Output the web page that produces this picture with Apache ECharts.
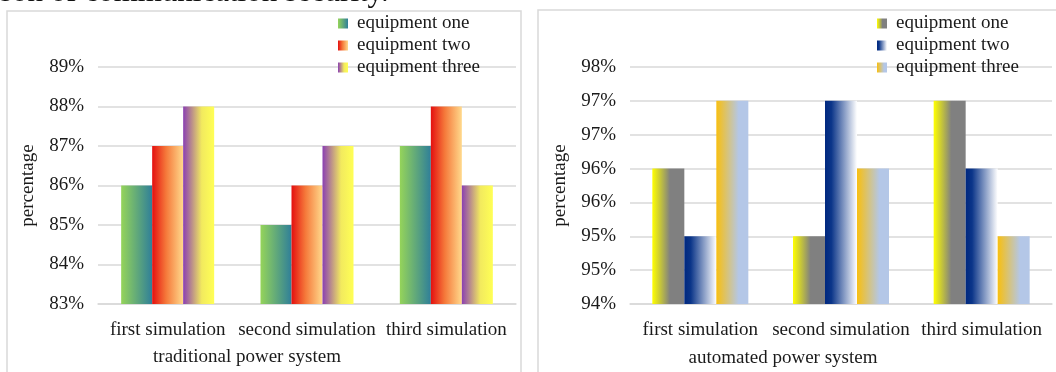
<!DOCTYPE html>
<html>
<head>
<meta charset="utf-8">
<script src="https://cdn.jsdelivr.net/npm/echarts@6/dist/echarts.min.js"></script>
<style>
html,body{margin:0;padding:0;background:#fff;}
#left,#right{position:absolute;top:0;width:528px;height:372px;}
#left{left:0;}
#right{left:528px;}
</style>
</head>
<body>
<div id="left"></div>
<div id="right"></div>
<script>
// ---- data ----
const categories = ['first simulation', 'second simulation', 'third simulation'];
const seriesNames = ['equipment one', 'equipment two', 'equipment three'];
const tradOne = [86, 85, 87];
const tradTwo = [87, 86, 88];
const tradThree = [88, 87, 86];
const autoOne = [96, 95, 97];
const autoTwo = [95, 97, 96];
const autoThree = [97, 96, 95];
const tradAxis = { min: 83, max: 89, interval: 1 };
const autoAxis = { min: 94, max: 97.5, interval: 0.5 };
const tradTitle = 'traditional power system';
const autoTitle = 'automated power system';
const headerText = 'son of communication security.';
const yName = 'percentage';

const FONT = 'Liberation Serif, Times New Roman, serif';
const FS = 19;
const TXT = '#1a1a1a';
const GRID_C = '#d9d9d9';

function grad(stops) {
  return { type: 'linear', x: 0, y: 0, x2: 1, y2: 0,
    colorStops: stops.map(s => ({ offset: s[0], color: s[1] })) };
}
const tradColors = [
  grad([[0, '#95d45a'], [1, '#2f7f99']]),
  grad([[0, '#e41010'], [0.45, '#f5793a'], [1, '#ffd98c']]),
  grad([[0, '#8a3fb2'], [0.6, '#f2ea5e'], [1, '#ffff55']])
];
const autoColors = [
  grad([[0, '#ffff00'], [0.55, '#808080'], [1, '#808080']]),
  grad([[0, '#00287f'], [0.2, '#0b3589'], [1, '#ffffff']]),
  grad([[0, '#f8bf10'], [0.7, '#b4c7e7'], [1, '#b4c7e7']])
];

function buildOption(cfg) {
  return {
    animation: false,
    textStyle: { fontFamily: FONT },
    grid: { left: cfg.gridLeft, right: cfg.gridRight, top: 67, bottom: 68 },
    legend: {
      orient: 'vertical', left: cfg.legendLeft, top: 14, padding: 0,
      itemWidth: 10, itemHeight: 10, itemGap: 3, icon: 'rect',
      textStyle: { fontFamily: FONT, fontSize: FS, color: TXT, lineHeight: 19, padding: [0, 0, 0, 4] },
      data: seriesNames
    },
    xAxis: {
      type: 'category', data: categories,
      axisLine: { lineStyle: { color: GRID_C, width: 1.5 } },
      axisTick: { show: false },
      axisLabel: { fontFamily: FONT, fontSize: FS, color: TXT, margin: 17, interval: 0 }
    },
    yAxis: {
      type: 'value', min: cfg.axis.min, max: cfg.axis.max, interval: cfg.axis.interval,
      name: yName, nameLocation: 'middle', nameGap: 60, nameRotate: 90,
      nameTextStyle: { fontFamily: FONT, fontSize: FS, color: TXT },
      axisLine: { show: false }, axisTick: { show: false },
      splitLine: { lineStyle: { color: GRID_C, width: 1.5 } },
      axisLabel: { fontFamily: FONT, fontSize: FS, color: TXT, margin: 14,
        formatter: v => Math.round(v) + '%' }
    },
    graphic: cfg.graphic,
    series: cfg.data.map((d, i) => ({
      name: seriesNames[i], type: 'bar', data: d, barWidth: cfg.barWidth, barGap: '0%',
      itemStyle: { color: cfg.colors[i] }
    }))
  };
}

const left = echarts.init(document.getElementById('left'), null, { renderer: 'canvas' });
left.setOption(buildOption({
  gridLeft: 98, gridRight: 12, legendLeft: 338, axis: tradAxis, barWidth: 31,
  data: [tradOne, tradTwo, tradThree], colors: tradColors,
  graphic: [
    { type: 'rect', shape: { x: 7, y: 11, width: 514, height: 420 }, silent: true, z: -10,
      style: { fill: 'none', stroke: GRID_C, lineWidth: 1.5 } },
    { type: 'text', x: 0, y: -7, silent: true,
      style: { text: headerText, font: '31px ' + FONT, fill: '#111', verticalAlign: 'middle' } },
    { type: 'text', x: 247, y: 357, silent: true,
      style: { text: tradTitle, font: FS + 'px ' + FONT, fill: TXT, align: 'center', verticalAlign: 'middle' } }
  ]
}));

const right = echarts.init(document.getElementById('right'), null, { renderer: 'canvas' });
right.setOption(buildOption({
  gridLeft: 102, gridRight: 4, legendLeft: 349, axis: autoAxis, barWidth: 32,
  data: [autoOne, autoTwo, autoThree], colors: autoColors,
  graphic: [
    { type: 'rect', shape: { x: 10, y: 10, width: 600, height: 420 }, silent: true, z: -10,
      style: { fill: 'none', stroke: GRID_C, lineWidth: 1.5 } },
    { type: 'text', x: 255, y: 358, silent: true,
      style: { text: autoTitle, font: FS + 'px ' + FONT, fill: TXT, align: 'center', verticalAlign: 'middle' } }
  ]
}));
</script>
</body>
</html>
